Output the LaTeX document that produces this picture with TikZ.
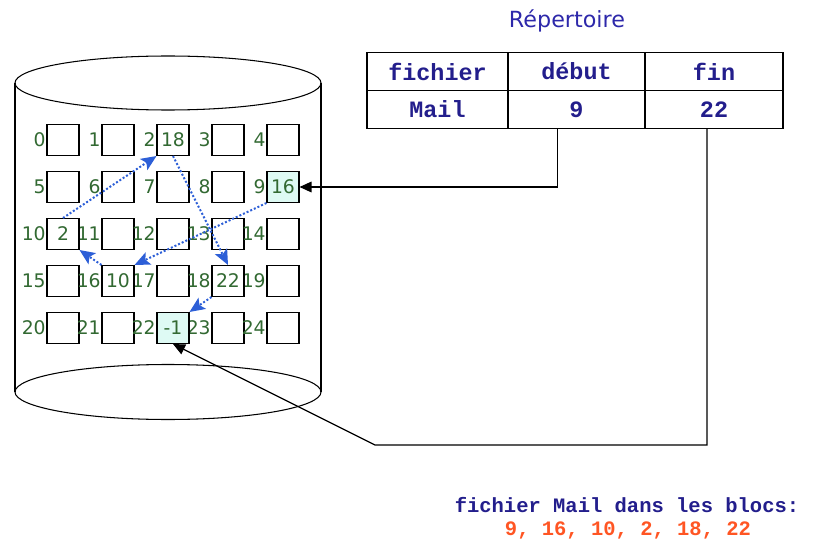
\documentclass[tikz,border=0pt]{standalone}
\usepackage{fontspec}
\setmainfont{DejaVu Sans}
\newfontfamily\codefont{Liberation Mono}
\usetikzlibrary{arrows.meta,calc}
\definecolor{numgreen}{RGB}{50,105,50}
\definecolor{chainblue}{RGB}{45,95,215}
\definecolor{cellcyan}{RGB}{222,250,244}
\definecolor{dirnavy}{RGB}{35,30,140}
\definecolor{titleblue}{RGB}{45,40,170}
\definecolor{listorange}{RGB}{255,85,35}
\tikzset{
  disk/.style={
    line width=0.9pt
  },
  block/.style={
    draw=black,
    fill=white,
    line width=0.9pt,
    minimum width=9.6mm,
    minimum height=9.3mm,
    inner sep=0pt,
    font=\fontsize{16}{16}\selectfont,
    text=numgreen
  },
  block-num/.style={
    anchor=east,
    inner sep=0.5pt,
    font=\fontsize{16}{16}\selectfont,
    text=numgreen
  },
  chain/.style={
    draw=chainblue,
    line width=1.7pt,
    dash pattern=on 1.7pt off 1.7pt,
    -{Stealth[length=4.6mm,width=4mm,inset=1mm]}
  },
  pointer/.style={
    line width=1pt,
    -{Triangle[length=3.6mm,width=3.2mm]}
  },
  dir-cell/.style={
    draw=black,
    line width=1pt,
    minimum height=11.4mm,
    inner sep=0pt,
    outer sep=0pt,
    font=\codefont\bfseries\fontsize{20}{20}\selectfont,
    text=dirnavy
  },
  dir-note/.style={
    font=\codefont\bfseries\fontsize{17.5}{17.5}\selectfont
  }
}

\begin{document}
\begin{tikzpicture}[x=0.3mm, y=-0.3mm]
  \useasboundingbox (0,0) rectangle (817,543);
  % the disk
  \draw[disk] (15,83) -- (15,392);
  \draw[disk] (321,83) -- (321,392);
  \draw[disk] (168,83) ellipse [x radius=45.9mm, y radius=8.1mm];
  \draw[disk] (168,392) ellipse [x radius=45.9mm, y radius=8.25mm];
  % blocks 0..24
  \foreach \i in {0,...,24} {
    \pgfmathtruncatemacro{\col}{mod(\i,5)}
    \pgfmathtruncatemacro{\row}{div(\i,5)}
    \node[block] (b\i) at ({63+55*\col},{140+47*\row}) {};
    \node[block-num] (n\i) at (b\i.west) {\i};
  }
  \foreach \i/\v/\f in {2/18/white, 9/16/cellcyan, 10/2/white,
                        16/10/white, 18/22/white, 22/-1/cellcyan} {
    \node[block, fill=\f] (v\i) at (b\i) {\v};
  }
  % chaining of the file
  \draw[chain] (v9.south west) -- (v16.north east);
  \draw[chain] (v16.north west) -- (v10.south east);
  \draw[chain] (v10.north) -- (v2.south west);
  \draw[chain] (v2.south) -- (v18.north);
  \draw[chain] (v18.south west) -- (v22.north east);
  % directory
  \node[font=\fontsize{19}{19}\selectfont, text=titleblue] (title) at (567,21) {Répertoire};
  \node[dir-cell, minimum width=42.3mm] (hfichier) at (437.5,71.5) {fichier};
  \node[dir-cell, minimum width=41.1mm, anchor=west] (hdebut) at (hfichier.east) {début};
  \node[dir-cell, minimum width=41.4mm, anchor=west] (hfin) at (hdebut.east) {fin};
  \node[dir-cell, minimum width=42.3mm, anchor=north] (rmail) at (hfichier.south) {Mail};
  \node[dir-cell, minimum width=41.1mm, anchor=north] (rdebut) at (hdebut.south) {9};
  \node[dir-cell, minimum width=41.4mm, anchor=north] (rfin) at (hfin.south) {22};
  % pointers to first and last block
  \coordinate (finturn) at (375,445);
  \draw[pointer] ($(rdebut.south)+(-19,0)$) |- (v9.east);
  \draw[pointer] ($(rfin.south)+(-7,0)$) |- (finturn) -- (v22.south);
  % note
  \node[dir-note, text=dirnavy] (note) at (627,505) {fichier Mail dans les blocs:};
  \node[dir-note, text=listorange] (blocks) at (628,530) {9, 16, 10, 2, 18, 22};
\end{tikzpicture}
\end{document}
